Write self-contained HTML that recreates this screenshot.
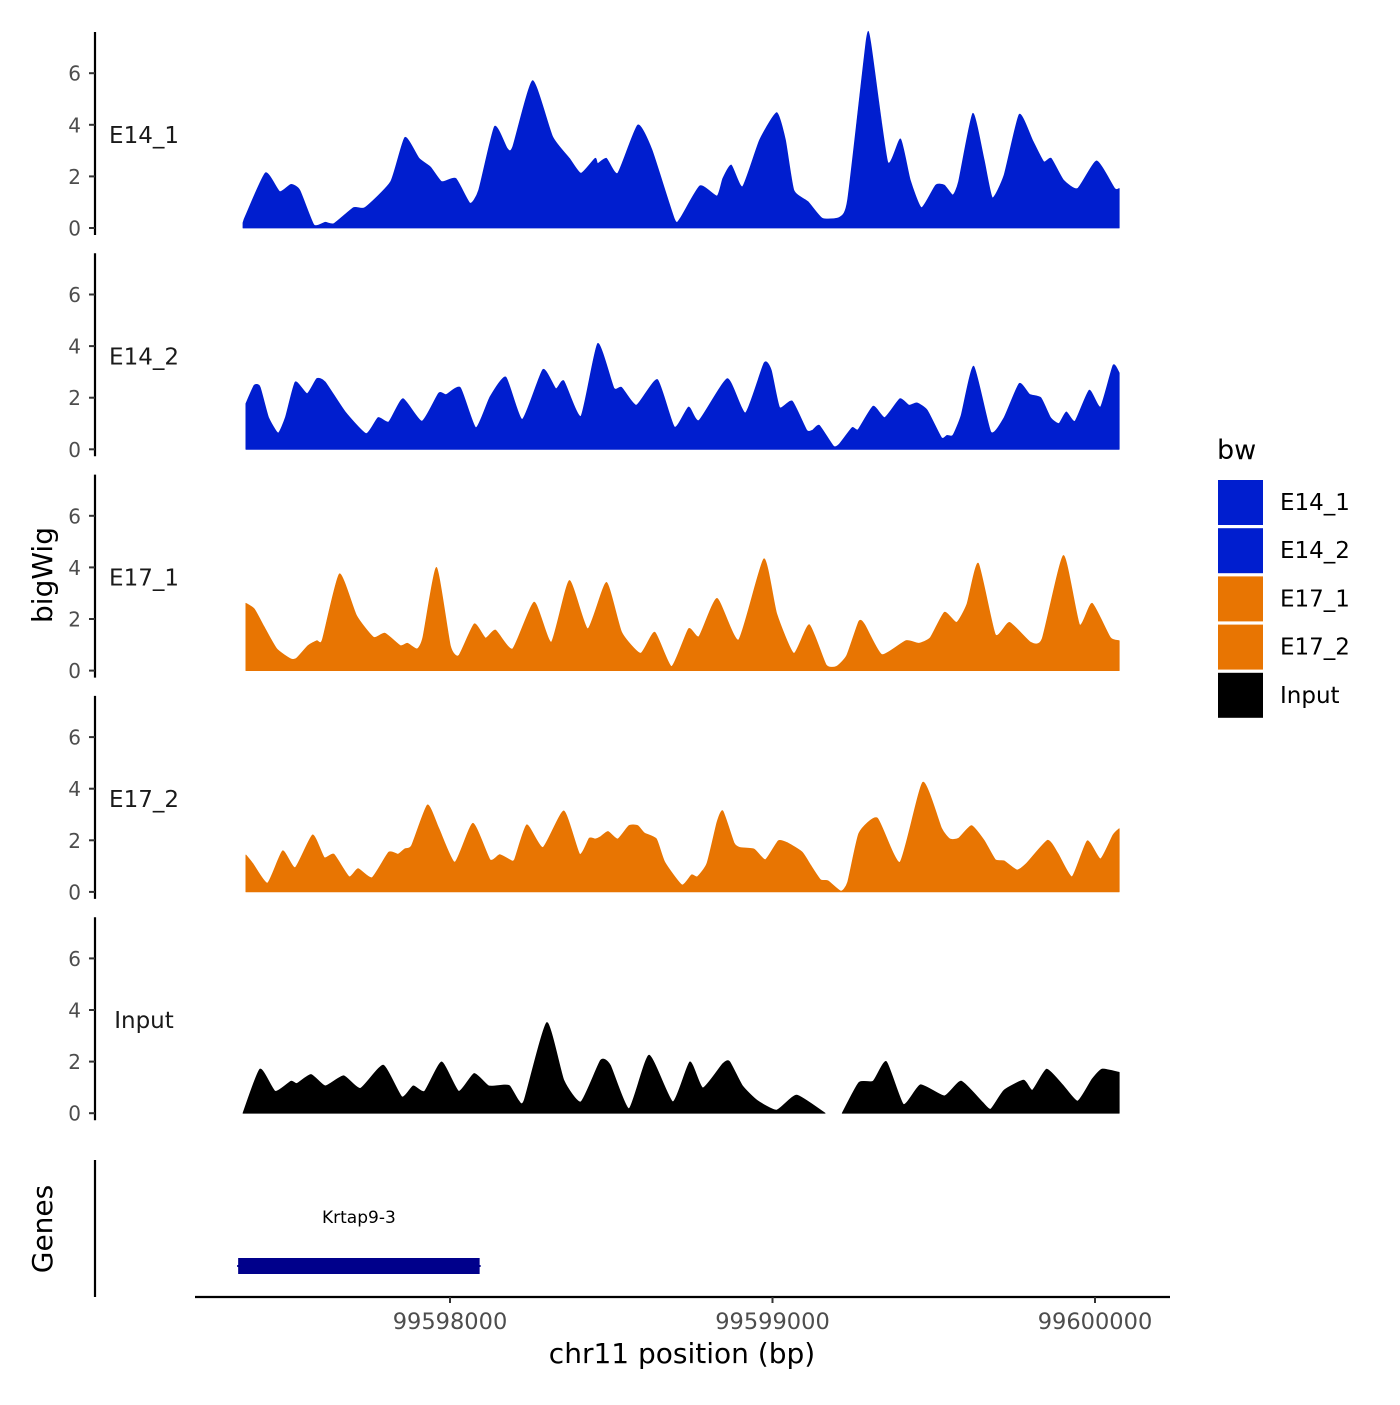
<!DOCTYPE html>
<html><head><meta charset="utf-8">
<style>
body{margin:0;background:#fff;}
svg text{font-family:"DejaVu Sans","Liberation Sans",sans-serif;}
</style></head>
<body>
<svg id="chart" width="1400" height="1400" xmlns="http://www.w3.org/2000/svg"></svg>
<script>
const startBp = 99597349;
const trackNames = ["E14_1","E14_2","E17_1","E17_2","Input"];
const trackColors = ["#001ecf","#001ecf","#e87502","#e87502","#000000"];
const yTicks = [0,2,4,6];
const xTicks = [99598000,99599000,99600000];
const xTickLabels = ["99598000","99599000","99600000"];
const geneName = "Krtap9-3";
const geneStart = 99597340;
const geneEnd = 99598095;

const offs1 = [9,18,79,123,158,185,229,264,291,352,387,467,511,555,590,625,669,713,740,789,828,845,907,969,1021,1057,1101,1109,1136,1171,1233,1277,1347,1365,1426,1479,1497,1523,1558,1611,1664,1691,1717,1761,1805,1858,1884,1942,1955,2008,2048,2078,2113,2157,2184,2210,2228,2272,2307,2333,2369,2416,2457,2492,2515,2553,2597,2656,2712,2726];
const vals1 = [0.2,0.5,2.14,1.41,1.69,1.47,0.12,0.22,0.17,0.79,0.79,1.8,3.51,2.7,2.37,1.8,1.92,0.96,1.47,3.93,3.09,3.13,5.71,3.54,2.7,2.12,2.7,2.5,2.7,2.12,3.99,3.03,0.34,0.38,1.63,1.24,1.92,2.44,1.6,3.41,4.47,3.41,1.47,1.02,0.38,0.41,1.08,7.29,7.22,2.57,3.45,1.86,0.79,1.66,1.66,1.28,1.8,4.44,2.64,1.17,2.05,4.4,3.41,2.57,2.7,1.86,1.53,2.6,1.53,1.53];

const offs2 = [18,44,62,88,118,141,171,208,238,264,326,391,428,461,505,564,616,639,683,731,775,824,875,939,979,1004,1057,1109,1159,1183,1229,1294,1347,1391,1423,1511,1567,1625,1647,1673,1712,1757,1775,1796,1840,1858,1898,1916,1963,1999,2046,2074,2099,2131,2175,2192,2210,2236,2275,2328,2369,2416,2448,2483,2513,2539,2562,2589,2633,2668,2707,2726];
const vals2 = [1.77,2.48,2.42,1.25,0.63,1.25,2.61,2.16,2.74,2.61,1.45,0.61,1.23,1.06,1.96,1.09,2.18,2.12,2.39,0.84,2.03,2.8,1.16,3.09,2.35,2.65,1.28,4.1,2.38,2.4,1.71,2.7,0.86,1.64,1.12,2.74,1.41,3.35,3.07,1.62,1.87,0.74,0.74,0.93,0.12,0.2,0.84,0.76,1.67,1.23,1.96,1.71,1.8,1.51,0.45,0.54,0.54,1.32,3.22,0.67,1.23,2.55,2.13,2.0,1.23,1.0,1.45,1.09,2.29,1.64,3.26,2.96];

const offs3 = [18,44,74,114,158,176,211,238,255,308,361,414,449,497,519,549,567,609,652,678,726,761,792,845,912,965,1021,1078,1136,1183,1242,1286,1338,1391,1423,1479,1546,1624,1664,1717,1765,1817,1849,1881,1919,1937,1990,2064,2104,2140,2184,2222,2254,2289,2342,2386,2451,2487,2553,2603,2642,2698,2726];
const vals3 = [2.61,2.39,1.71,0.84,0.45,0.49,0.97,1.16,1.19,3.75,2.13,1.29,1.45,0.97,1.06,0.84,1.29,4.0,0.97,0.58,1.81,1.26,1.57,0.84,2.65,1.1,3.49,1.62,3.42,1.49,0.67,1.49,0.16,1.62,1.32,2.8,1.19,4.33,2.2,0.67,1.78,0.23,0.16,0.58,1.91,1.78,0.62,1.16,1.06,1.27,2.26,1.87,2.58,4.16,1.4,1.87,1.1,1.23,4.46,1.78,2.61,1.29,1.16];

const offs4 = [18,39,85,132,171,225,261,291,338,366,409,461,490,511,532,581,616,666,722,775,805,836,851,889,939,1004,1053,1083,1101,1118,1141,1171,1206,1233,1254,1291,1317,1370,1400,1418,1448,1479,1497,1532,1550,1594,1629,1669,1699,1743,1770,1800,1823,1863,1884,1919,1976,2046,2117,2175,2201,2228,2268,2307,2342,2369,2409,2439,2504,2536,2580,2627,2668,2707,2726];
const vals4 = [1.43,1.11,0.34,1.59,0.94,2.21,1.33,1.46,0.59,0.9,0.55,1.54,1.46,1.67,1.8,3.37,2.47,1.15,2.66,1.25,1.44,1.25,1.25,2.6,1.72,3.14,1.46,2.08,2.05,2.14,2.34,2.05,2.57,2.57,2.28,2.05,1.15,0.27,0.66,0.59,1.11,2.7,3.14,1.89,1.72,1.66,1.25,1.98,1.89,1.54,1.02,0.47,0.43,0.03,0.37,2.27,2.86,1.15,4.25,2.47,2.05,2.08,2.57,2.0,1.25,1.2,0.85,1.11,2.0,1.49,0.59,1.98,1.28,2.21,2.45];

const offs5 = [9,62,109,158,176,220,264,321,373,444,502,537,572,625,678,726,771,814,836,863,881,951,1004,1057,1118,1148,1206,1268,1342,1395,1435,1497,1518,1558,1603,1664,1726,1814,1840,1867,1919,1963,2004,2057,2110,2184,2236,2303,2328,2369,2430,2457,2501,2550,2597,2642,2673,2726];
const vals5 = [0,1.71,0.85,1.24,1.15,1.5,1.06,1.45,0.96,1.86,0.63,1.06,0.85,1.99,0.85,1.54,1.06,1.09,1.06,0.5,0.5,3.51,1.28,0.44,2.05,1.86,0.18,2.25,0.44,1.99,0.98,1.92,2.0,1.06,0.5,0.12,0.7,0,null,0,1.19,1.24,2.0,0.34,1.1,0.67,1.24,0.41,0.16,0.89,1.28,0.89,1.71,1.11,0.47,1.32,1.71,1.58];

const allOffs = [offs1,offs2,offs3,offs4,offs5];
const allVals = [vals1,vals2,vals3,vals4,vals5];

const NS = "http://www.w3.org/2000/svg";
const svg = document.getElementById('chart');
function mk(tag, attrs, parent){const e=document.createElementNS(NS,tag);for(const k in attrs)e.setAttribute(k,attrs[k]);(parent||svg).appendChild(e);return e;}
const xScale = bp => 450 + (bp - 99598000) * 0.3225;
const panelStep = 221.3, baseY0 = 228, pxPerUnit = 25.8;
const yScale = (p, v) => baseY0 + p*panelStep - v*pxPerUnit;

function smoothPath(s){
  let d = '';
  for (let i=0;i<s.length-1;i++){
    const p0=s[Math.max(0,i-1)], p1=s[i], p2=s[i+1], p3=s[Math.min(s.length-1,i+2)];
    const t=0.09;
    const c1x=p1[0]+(p2[0]-p0[0])*t, c1y=p1[1]+(p2[1]-p0[1])*t;
    const c2x=p2[0]-(p3[0]-p1[0])*t, c2y=p2[1]-(p3[1]-p1[1])*t;
    d += 'C'+c1x.toFixed(1)+','+c1y.toFixed(1)+' '+c2x.toFixed(1)+','+c2y.toFixed(1)+' '+p2[0].toFixed(1)+','+p2[1].toFixed(1);
  }
  return d;
}

for (let p=0;p<5;p++){
  const g = mk('g',{});
  
  
  const y0 = yScale(p,0);
  const ax = mk('line',{x1:95,x2:95,y1:y0-196,y2:y0+7,stroke:'#000','stroke-width':2.2},g);
  
  
  yTicks.forEach(t=>{
    const y = yScale(p,t);
    const tk = mk('line',{x1:89,x2:95,y1:y,y2:y,stroke:'#333','stroke-width':2},g);
    
    
    const tl = mk('text',{x:81,y:y+7.5,'text-anchor':'end','font-size':20,fill:'#4d4d4d'},g);
    tl.textContent = t;
    
    
  });
  const lbl = mk('text',{x:144,y:y0-85,'text-anchor':'middle','font-size':23,fill:'#1a1a1a'},g);
  lbl.textContent = trackNames[p];
  
  
  const offs = allOffs[p], vals = allVals[p];
  let segs=[], cur=[];
  for (let i=0;i<offs.length;i++){
    if (vals[i]===null){ if(cur.length) segs.push(cur); cur=[]; continue; }
    cur.push([xScale(startBp+offs[i]), yScale(p,vals[i])]);
  }
  if(cur.length) segs.push(cur);
  segs.forEach(s=>{
    let d = 'M'+s[0][0].toFixed(1)+','+y0.toFixed(1)+'L'+s[0][0].toFixed(1)+','+s[0][1].toFixed(1);
    d += smoothPath(s);
    d += 'L'+s[s.length-1][0].toFixed(1)+','+y0.toFixed(1)+'Z';
    const a = mk('path',{d:d,fill:trackColors[p],stroke:trackColors[p],'stroke-width':0.8,'stroke-linejoin':'round'},g);
    
    
  });
}

// Genes panel
const gAx = mk('line',{x1:95,x2:95,y1:1160,y2:1297,stroke:'#000','stroke-width':2.2});


const gLine = mk('line',{x1:xScale(geneStart),x2:xScale(geneEnd),y1:1266,y2:1266,stroke:'#00008b','stroke-width':2});


const gRect = mk('rect',{x:xScale(geneStart)+1,y:1258,width:xScale(geneEnd)-xScale(geneStart)-2,height:16,fill:'#00008b'});


const gTxt = mk('text',{x:(xScale(geneStart)+xScale(geneEnd))/2,y:1223,'text-anchor':'middle','font-size':17,fill:'#000'});
gTxt.textContent = geneName;



// X axis
const xAx = mk('line',{x1:195,x2:1170,y1:1297,y2:1297,stroke:'#000','stroke-width':2.2});


xTicks.forEach((t,i)=>{
  const x = xScale(t);
  const tk = mk('line',{x1:x,x2:x,y1:1297,y2:1303,stroke:'#333','stroke-width':2});
  
  
  const tl = mk('text',{x:x,y:1329,'text-anchor':'middle','font-size':22.5,fill:'#4d4d4d'});
  tl.textContent = xTickLabels[i];
  
  
});
const xt = mk('text',{x:682,y:1363,'text-anchor':'middle','font-size':28,fill:'#000'});
xt.textContent = 'chr11 position (bp)';


const yt = mk('text',{x:52,y:575,'text-anchor':'middle','font-size':28,fill:'#000',transform:'rotate(-90 52 575)'});
yt.textContent = 'bigWig';


const gt = mk('text',{x:52,y:1229,'text-anchor':'middle','font-size':28,fill:'#000',transform:'rotate(-90 52 1229)'});
gt.textContent = 'Genes';



// Legend
const lg = mk('g',{});


const lt = mk('text',{x:1217,y:459,'font-size':27,fill:'#000'},lg);
lt.textContent = 'bw';


const legendLabels = ["E14_1","E14_2","E17_1","E17_2","Input"];
legendLabels.forEach((n,i)=>{
  const y = 480 + i*48.2;
  const r = mk('rect',{x:1218,y:y,width:45,height:45,fill:trackColors[i]},lg);
  
  
  const t = mk('text',{x:1280,y:y+30,'font-size':23,fill:'#000'},lg);
  t.textContent = n;
  
  
});
</script>
</body></html>
